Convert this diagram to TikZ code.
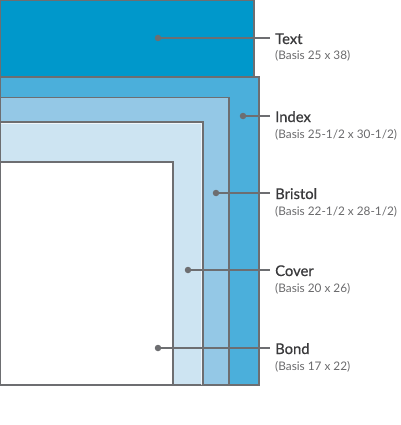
\documentclass[tikz,border=0pt]{standalone}
\usepackage{fontspec}
\setmainfont{Lato}
\newfontfamily\titlefont[FakeBold=0.5]{Lato}
\definecolor{cText}{HTML}{0098CB}
\definecolor{cIndex}{HTML}{4BAFDB}
\definecolor{cBristol}{HTML}{94C8E6}
\definecolor{cCover}{HTML}{CDE4F2}
\definecolor{edge}{HTML}{6D6E71}
\definecolor{ttl}{HTML}{3A3A3C}
\definecolor{sub}{HTML}{6A6A6C}
\tikzset{
  sheet/.style={draw=edge, line width=1.3pt},
  dot/.style={circle, fill=edge, inner sep=0pt, minimum size=6.5pt},
  conn/.style={draw=edge, line width=1.2pt},
  ttlnode/.style={anchor=base west, inner sep=0pt, text=ttl, font=\titlefont\fontsize{14.8}{16}\selectfont},
  subnode/.style={anchor=base west, inner sep=0pt, text=sub, font=\fontsize{11.8}{14}\selectfont},
}
\begin{document}
\begin{tikzpicture}[x=1pt,y=-1pt]
\useasboundingbox (0,0) rectangle (400,425);
% sheets
\path[sheet, fill=cIndex] (0.7,77) rectangle (259,385);
\path[sheet, fill=cBristol] (0.7,97.5) rectangle (229,385);
\path[sheet, fill=cCover] (0.7,122) rectangle (203,385);
\draw[white, opacity=0.7, line width=0.8pt] (0.7,123.8) -- (201.2,123.8) -- (201.2,385);
\path[sheet, fill=white] (0.7,162) rectangle (173,385);
\path[sheet, fill=cText] (0.7,0.7) rectangle (254,76.5);
% dots
\node[dot] (dText) at (158,38) {};
\node[dot] (dIndex) at (243,116) {};
\node[dot] (dBristol) at (216,193) {};
\node[dot] (dCover) at (188,270) {};
\node[dot] (dBond) at (158,348) {};
% labels
\node[ttlnode] (tText) at (275,44) {Text};
\node[subnode] (sText) at (275,60) {(Basis 25 x 38)};
\node[ttlnode] (tIndex) at (275,122) {Index};
\node[subnode] (sIndex) at (275,138) {(Basis 25-1/2 x 30-1/2)};
\node[ttlnode] (tBristol) at (275,199) {Bristol};
\node[subnode] (sBristol) at (275,215) {(Basis 22-1/2 x 28-1/2)};
\node[ttlnode] (tCover) at (275,276) {Cover};
\node[subnode] (sCover) at (275,292) {(Basis 20 x 26)};
\node[ttlnode] (tBond) at (275,354) {Bond};
\node[subnode] (sBond) at (275,370) {(Basis 17 x 22)};
% connectors
\foreach \n in {Text,Index,Bristol,Cover,Bond}{
  \coordinate (e\n) at ([xshift=-5pt]t\n.west |- d\n);
  \draw[conn] (d\n.center) -- (e\n);
}
\end{tikzpicture}
\end{document}
